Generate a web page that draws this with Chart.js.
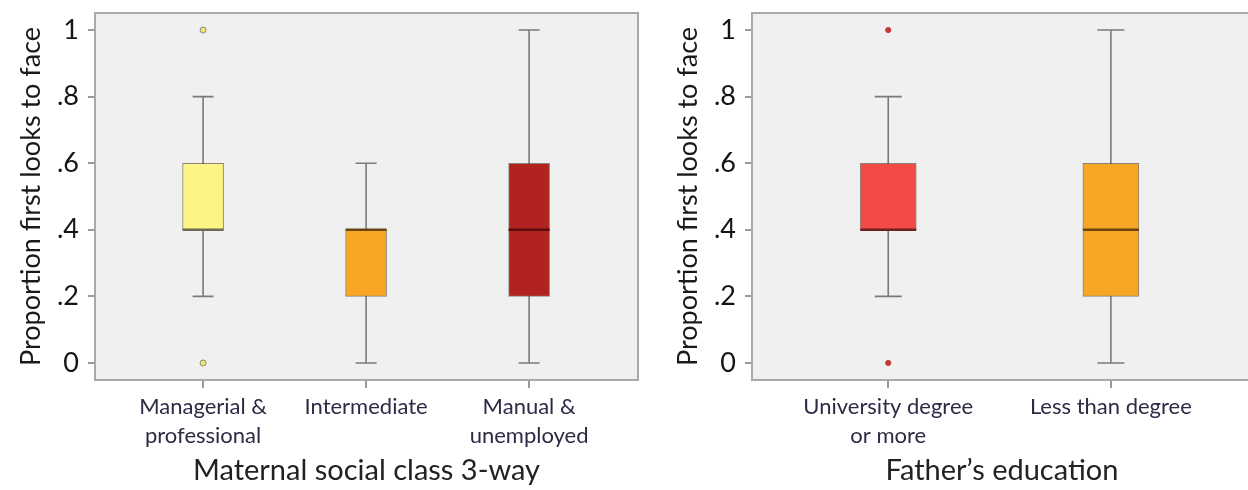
<!DOCTYPE html>
<html>
<head>
<meta charset="utf-8">
<script src="https://cdn.jsdelivr.net/npm/chart.js@4/dist/chart.umd.min.js"></script>
<style>
  html, body { margin: 0; padding: 0; background: #fff; overflow: hidden; }
  .panel { position: absolute; top: 0; }
  #momWrap { left: 0; }
  #dadWrap { left: 657px; }
</style>
</head>
<body>
<div class="panel" id="momWrap"><canvas id="momChart" width="657" height="490"></canvas></div>
<div class="panel" id="dadWrap"><canvas id="dadChart" width="600" height="490"></canvas></div>
<script>
// y axis
const yTickValues = [0, 0.2, 0.4, 0.6, 0.8, 1];
const yTickLabels = ['0', '.2', '.4', '.6', '.8', '1'];

// maternal social class
const momCategories = [['Managerial &', 'professional'], 'Intermediate', ['Manual &', 'unemployed']];
const momMin = [0.2, 0, 0];
const momQ1 = [0.4, 0.2, 0.2];
const momMedian = [0.4, 0.4, 0.4];
const momQ3 = [0.6, 0.4, 0.6];
const momMax = [0.8, 0.6, 1];
const momOutliers = [[0, 1], [], []];

// father's education
const dadCategories = [['University degree', 'or more'], 'Less than degree'];
const dadMin = [0.2, 0];
const dadQ1 = [0.4, 0.2];
const dadMedian = [0.4, 0.4];
const dadQ3 = [0.6, 0.6];
const dadMax = [0.8, 1];
const dadOutliers = [[0, 1], []];

const FONT = 'Lato, "Open Sans", sans-serif';

const boxLines = {
  id: 'boxLines',
  beforeDraw(chart) {
    const { ctx, chartArea: a } = chart;
    ctx.save();
    ctx.fillStyle = '#f0f0f0';
    ctx.fillRect(a.left, a.top, a.right - a.left, a.bottom - a.top);
    ctx.restore();
  },
  beforeDatasetsDraw(chart, args, opts) {
    const { ctx, scales: { x, y } } = chart;
    ctx.save();
    ctx.strokeStyle = '#7a7a7a';
    ctx.lineWidth = 1.6;
    opts.mins.forEach((lo, i) => {
      const px = x.getPixelForValue(i);
      const yLo = y.getPixelForValue(lo);
      const yHi = y.getPixelForValue(opts.maxs[i]);
      const c = opts.capWidth / 2;
      ctx.beginPath();
      ctx.moveTo(px, yLo); ctx.lineTo(px, yHi);
      ctx.moveTo(px - c, yLo); ctx.lineTo(px + c, yLo);
      ctx.moveTo(px - c, yHi); ctx.lineTo(px + c, yHi);
      ctx.stroke();
    });
    ctx.restore();
  },
  afterDatasetsDraw(chart, args, opts) {
    const { ctx, scales: { x, y } } = chart;
    ctx.save();
    ctx.lineWidth = 2.5;
    opts.medians.forEach((m, i) => {
      const px = x.getPixelForValue(i);
      const py = y.getPixelForValue(m);
      const h = opts.boxWidth / 2;
      ctx.strokeStyle = opts.medianColors[i];
      ctx.beginPath();
      ctx.moveTo(px - h, py); ctx.lineTo(px + h, py);
      ctx.stroke();
    });
    ctx.restore();
  },
  afterDraw(chart) {
    const { ctx, chartArea: a } = chart;
    ctx.save();
    ctx.strokeStyle = '#a9a9a9';
    ctx.lineWidth = 2;
    ctx.strokeRect(a.left, a.top, a.right - a.left, a.bottom - a.top);
    ctx.restore();
  }
};

function makeBoxChart(id, cfg) {
  const idx = cfg.categories.map((c, i) => i);
  const outlierPoints = [];
  cfg.outliers.forEach((list, i) => list.forEach(v => outlierPoints.push({ x: i, y: v })));

  return new Chart(document.getElementById(id), {
    type: 'bar',
    data: {
      datasets: [{
        type: 'bar',
        data: idx.map(i => ({ x: i, y: [cfg.q1[i], cfg.q3[i]] })),
        backgroundColor: cfg.colors,
        borderColor: 'rgba(90,70,50,0.65)',
        borderWidth: 1,
        borderSkipped: false,
        barThickness: cfg.boxWidth,
        grouped: false,
        order: 2
      }, {
        type: 'scatter',
        data: outlierPoints,
        pointRadius: cfg.outlierRadius,
        pointBackgroundColor: cfg.outlierFill,
        pointBorderColor: cfg.outlierBorder,
        pointBorderWidth: 1,
        order: 1
      }]
    },
    options: {
      responsive: false,
      animation: false,
      devicePixelRatio: 1,
      layout: { padding: { top: 13, right: cfg.rightPad, left: 0, bottom: 0 } },
      plugins: {
        legend: { display: false },
        tooltip: { enabled: false },
        boxLines: {
          mins: cfg.min, maxs: cfg.max, medians: cfg.median,
          boxWidth: cfg.boxWidth, capWidth: cfg.capWidth, medianColors: cfg.medianColors
        }
      },
      scales: {
        x: {
          type: 'linear',
          offset: false,
          min: cfg.xMin,
          max: cfg.xMax,
          afterBuildTicks: s => { s.ticks = idx.map(v => ({ value: v })); },
          afterFit: s => { s.height = 110; s.paddingLeft = 0; s.paddingRight = 0; },
          grid: { offset: false, drawOnChartArea: false, drawTicks: true, tickLength: 8, color: '#9a9a9a', lineWidth: 2 },
          border: { display: true, color: '#a9a9a9', width: 2 },
          ticks: {
            autoSkip: false,
            maxRotation: 0,
            padding: 5,
            color: '#2b2b45',
            font: { family: FONT, size: 22, lineHeight: 1.3 },
            callback: v => cfg.categories[v]
          },
          title: {
            display: true,
            text: cfg.xTitle,
            color: '#222',
            font: { family: FONT, size: 29, lineHeight: 1.2 },
            padding: { top: 0, bottom: 2 }
          }
        },
        y: {
          min: -0.0512,
          max: 1.0512,
          afterBuildTicks: s => { s.ticks = yTickValues.map(v => ({ value: v })); },
          afterFit: s => { s.width = 95; s.paddingTop = 0; s.paddingBottom = 0; },
          grid: { drawOnChartArea: false, drawTicks: true, tickLength: 7, color: '#9a9a9a', lineWidth: 2 },
          border: { display: true, color: '#a9a9a9', width: 2 },
          ticks: {
            padding: 9,
            color: '#151515',
            font: { family: FONT, size: 27 },
            callback: v => yTickLabels[yTickValues.indexOf(v)]
          },
          title: {
            display: true,
            text: 'Proportion first looks to face',
            color: '#1a1a1a',
            font: { family: FONT, size: 27, lineHeight: 1.2 },
            padding: { top: 15, bottom: 0 }
          }
        }
      }
    },
    plugins: [boxLines]
  });
}

makeBoxChart('momChart', {
  categories: momCategories,
  min: momMin, q1: momQ1, median: momMedian, q3: momQ3, max: momMax, outliers: momOutliers,
  colors: ['#fcf485', '#f8a624', '#b2221e'],
  medianColors: ['#6e6a55', '#6b4510', '#5a0d0b'],
  outlierFill: '#efe676', outlierBorder: '#8a8a70', outlierRadius: 3,
  boxWidth: 41, capWidth: 21,
  xMin: -0.663, xMax: 2.668, rightPad: 19,
  xTitle: 'Maternal social class 3-way'
});

makeBoxChart('dadChart', {
  categories: dadCategories,
  min: dadMin, q1: dadQ1, median: dadMedian, q3: dadQ3, max: dadMax, outliers: dadOutliers,
  colors: ['#f24a47', '#f7a724'],
  medianColors: ['#6e2020', '#6b4510'],
  outlierFill: '#c23a36', outlierBorder: '#c23a36', outlierRadius: 2.6,
  boxWidth: 56, capWidth: 27,
  xMin: -0.612, xMax: 1.634, rightPad: 2,
  xTitle: 'Father’s education'
});
</script>
</body>
</html>
